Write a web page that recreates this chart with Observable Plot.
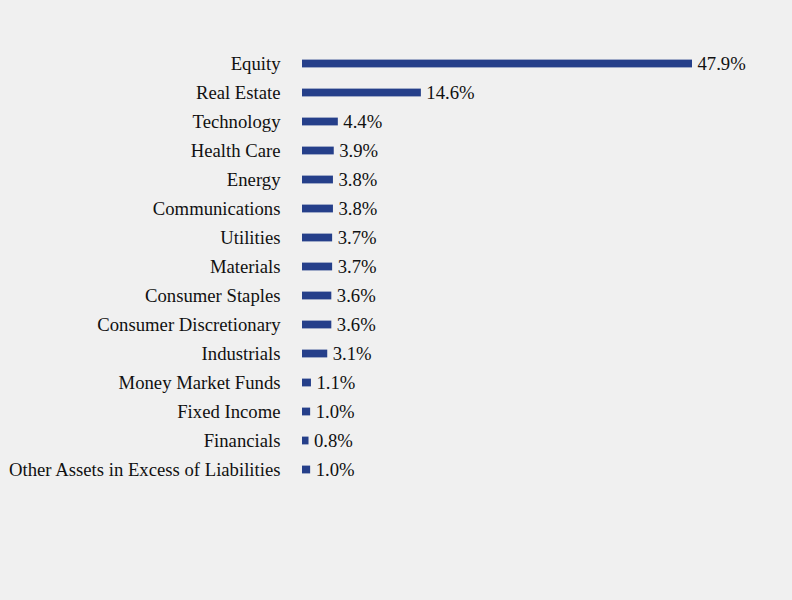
<!DOCTYPE html>
<html>
<head>
<meta charset="utf-8">
<script src="https://cdn.jsdelivr.net/npm/d3@7"></script>
<script src="https://cdn.jsdelivr.net/npm/@observablehq/plot@0.6"></script>
<style>
  html, body { margin: 0; padding: 0; background: #f0f0f0; }
  #chart { width: 792px; height: 600px; }
</style>
</head>
<body>
<div id="chart"></div>
<script>
const categories = ["Equity", "Real Estate", "Technology", "Health Care", "Energy", "Communications", "Utilities", "Materials", "Consumer Staples", "Consumer Discretionary", "Industrials", "Money Market Funds", "Fixed Income", "Financials", "Other Assets in Excess of Liabilities"];
const values = [47.9, 14.6, 4.4, 3.9, 3.8, 3.8, 3.7, 3.7, 3.6, 3.6, 3.1, 1.1, 1.0, 0.8, 1.0];

const data = categories.map((c, i) => ({category: c, value: values[i]}));

const chart = Plot.plot({
  width: 792,
  height: 600,
  marginLeft: 302,
  marginRight: 100,
  marginTop: 47.4,
  marginBottom: 114.4,
  style: {background: "#f0f0f0", fontFamily: "'Liberation Serif', 'Times New Roman', serif", fontSize: "18.7px", color: "#111"},
  x: {domain: [0, 47.9], axis: null},
  y: {domain: categories, padding: 0, label: null, tickSize: 0, tickPadding: 22},
  marks: [
    Plot.barX(data, {x: "value", y: "category", fill: "#253f8a", insetTop: 10.6, insetBottom: 10.6}),
    Plot.text(data, {x: "value", y: "category", text: d => d.value.toFixed(1) + "%", textAnchor: "start", dx: 5, fill: "#111", fontSize: 18.7})
  ]
});
document.getElementById("chart").appendChild(chart);
</script>
</body>
</html>
